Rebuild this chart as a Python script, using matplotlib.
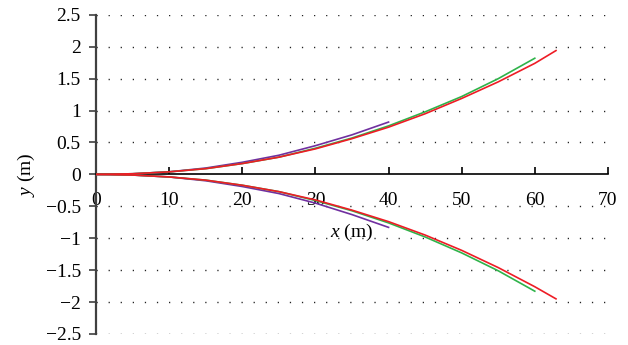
import numpy as np
import matplotlib
matplotlib.use("Agg")
import matplotlib.pyplot as plt

# ---------------------------------------------------------------------------
# Data
# ---------------------------------------------------------------------------
x_purple = [0, 5, 10, 15, 20, 25, 30, 35, 40]
y_purple_up = [0, 0.01, 0.04, 0.10, 0.19, 0.30, 0.45, 0.62, 0.82]
y_purple_lo = [0, -0.01, -0.04, -0.10, -0.19, -0.30, -0.45, -0.63, -0.83]

x_green = [0, 5, 10, 15, 20, 25, 30, 35, 40, 45, 50, 55, 60]
y_green_up = [0, 0.01, 0.04, 0.09, 0.17, 0.27, 0.41, 0.57, 0.76, 0.98, 1.22, 1.50, 1.82]
y_green_lo = [0, -0.01, -0.04, -0.09, -0.17, -0.27, -0.41, -0.57, -0.76, -0.98, -1.23, -1.51, -1.83]

x_red = [0, 5, 10, 15, 20, 25, 30, 35, 40, 45, 50, 55, 60, 62.9]
y_red_up = [0, 0.01, 0.04, 0.09, 0.17, 0.27, 0.40, 0.56, 0.74, 0.95, 1.19, 1.45, 1.74, 1.94]
y_red_lo = [0, -0.01, -0.04, -0.09, -0.17, -0.27, -0.40, -0.56, -0.74, -0.95, -1.19, -1.46, -1.76, -1.95]

x_ticks = [0, 10, 20, 30, 40, 50, 60, 70]
y_ticks = [-2.5, -2, -1.5, -1, -0.5, 0, 0.5, 1, 1.5, 2, 2.5]
y_tick_labels = ["\u22122.5", "\u22122", "\u22121.5", "\u22121", "\u22120.5", "0",
                 "0.5", "1", "1.5", "2", "2.5"]

# ---------------------------------------------------------------------------
# Style
# ---------------------------------------------------------------------------
plt.rcParams["font.family"] = ["Liberation Serif", "DejaVu Serif"]
plt.rcParams["mathtext.fontset"] = "custom"
plt.rcParams["mathtext.it"] = "Liberation Serif:italic"
plt.rcParams["mathtext.rm"] = "Liberation Serif"

PURPLE = "#7030a0"
GREEN = "#2fb34a"
RED = "#ee1c25"
FS = 14

fig = plt.figure(figsize=(6.28, 3.45), dpi=100)
ax = fig.add_axes([0.153, 0.032, 0.815, 0.925])

# dotted horizontal grid (not at zero, where the x axis sits)
for yy in y_ticks:
    if yy != 0:
        ax.axhline(yy, color="#222222", linewidth=1.0, linestyle=(0, (0.9, 7.8)), zorder=0)

ax.plot(x_purple, y_purple_up, color=PURPLE, lw=1.2, zorder=3)
ax.plot(x_purple, y_purple_lo, color=PURPLE, lw=1.2, zorder=3)
ax.plot(x_green, y_green_up, color=GREEN, lw=1.2, zorder=3)
ax.plot(x_green, y_green_lo, color=GREEN, lw=1.2, zorder=3)
ax.plot(x_red, y_red_up, color=RED, lw=1.2, zorder=4)
ax.plot(x_red, y_red_lo, color=RED, lw=1.2, zorder=4)

ax.set_xlim(0, 70)
ax.set_ylim(-2.5, 2.5)

ax.spines["top"].set_visible(False)
ax.spines["right"].set_visible(False)
ax.spines["bottom"].set_position(("data", 0))
ax.spines["bottom"].set_color("black")
ax.spines["bottom"].set_linewidth(1.2)
ax.spines["left"].set_color("#404040")
ax.spines["left"].set_linewidth(1.6)

ax.set_xticks(x_ticks)
ax.set_yticks(y_ticks)
ax.set_yticklabels(y_tick_labels)
ax.tick_params(axis="x", direction="in", length=5, width=1.2, pad=13,
               labelsize=FS, color="black")
ax.tick_params(axis="y", direction="out", length=5, width=1.2, pad=6,
               labelsize=FS, color="#404040")

ax.set_xlabel(r"$x$ (m)", fontsize=FS, va="center")
ax.xaxis.set_label_coords(0.5, 0.317)
ax.set_ylabel(r"$y$ (m)", fontsize=FS, va="center")
ax.yaxis.set_label_coords(-0.137, 0.5)

fig.savefig("out.png", dpi=100)
